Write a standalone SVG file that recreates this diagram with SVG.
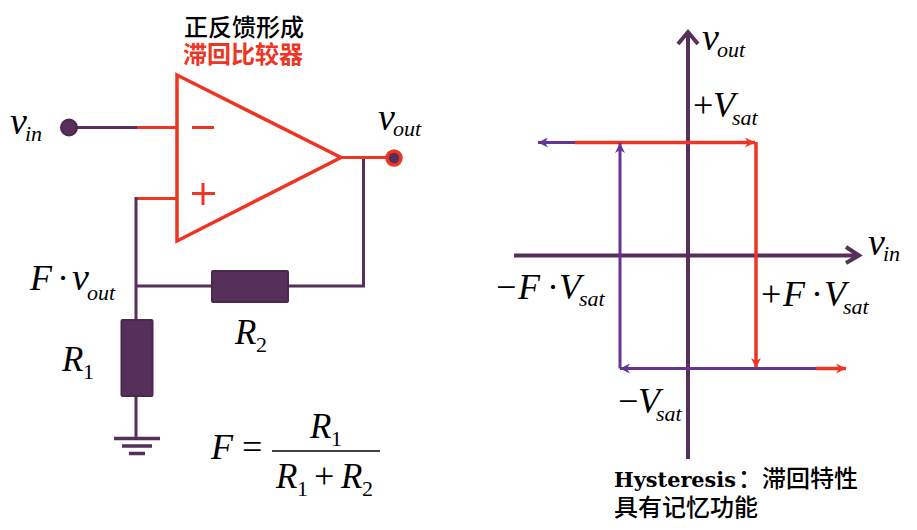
<svg xmlns="http://www.w3.org/2000/svg" width="917" height="530" viewBox="0 0 917 530">
<style>
.w{fill:none;stroke:#562f5b;stroke-width:3}
.r{fill:none;stroke:#ee3524;stroke-width:3}
.h{fill:none;stroke:#ee3524;stroke-width:3.500}
.ax{fill:none;stroke:#562f5b;stroke-width:4}
.p{fill:none;stroke:#643594;stroke-width:3}
.res{fill:#562f5b;stroke:#4a2850;stroke-width:2}
.m{font-family:"Liberation Serif",serif;font-style:italic;fill:#000}
.n{font-family:"Liberation Serif",serif;fill:#000}
.b{font-size:38px}.s{font-size:22px}.c{font-size:36px}.k{font-size:35px}
.cjk{font-family:"Noto Sans CJK SC",sans-serif;font-size:24px;font-weight:500}
</style>
<defs>
<marker id="ar" markerWidth="12" markerHeight="10" refX="10" refY="5" orient="auto" markerUnits="userSpaceOnUse"><path d="M0,0 L10,5 L0,10 L3,5Z" fill="#ee3524"/></marker>
<marker id="ap" markerWidth="12" markerHeight="10" refX="10" refY="5" orient="auto" markerUnits="userSpaceOnUse"><path d="M0,0 L10,5 L0,10 L3,5Z" fill="#643594"/></marker>
</defs>
<g id="title"><text class="cjk"><tspan x="184" y="36" fill="#000">正反馈形成</tspan><tspan x="183" y="63" fill="#ee3524" font-weight="700">滞回比较器</tspan></text></g>
<g id="connectors">
<path class="w" d="M69,127.500H137"/><path class="r" d="M137,127.500H177"/>
<path class="r" d="M136,198.500H177"/>
<path class="w" d="M136,197V438M136,286H363.500V158"/>
<path class="r" d="M341,157.500H394"/>
<path d="M114,438.500H160M122,446H152M129,453.500H145" fill="none" stroke="#562f5b" stroke-width="3.500"/>
</g>
<g id="opamp"><path d="M177,75V241L341,157.500Z" fill="none" stroke="#ee3524" stroke-width="3.500"/>
<path class="r" d="M192,127.500H214M192,193.500H215M203,183V205"/></g>
<g id="vin-node"><circle cx="69" cy="127.500" r="8" fill="#562f5b" stroke="#4a2850" stroke-width="2"/></g>
<g id="vout-node"><circle cx="394" cy="158" r="7" fill="#562f5b" stroke="#ee3524" stroke-width="3.500"/></g>
<g id="R2"><rect class="res" x="212" y="271" width="76" height="31" rx="1"/></g>
<g id="R1"><rect class="res" x="121.500" y="320" width="31" height="76" rx="1"/></g>
<g id="circuit-labels">
<text class="m b" x="10" y="134">v</text><text class="m s" x="25" y="141">in</text>
<text class="m b" x="378" y="130">v</text><text class="m s" x="393" y="136">out</text>
<text class="m c" x="30" y="290">F</text><text class="n c" x="57" y="290">·</text><text class="m b" x="72" y="290">v</text><text class="m s" x="87" y="300">out</text>
<text class="m k" x="235" y="344">R</text><text class="n s" x="256" y="352">2</text>
<text class="m k" x="62" y="371">R</text><text class="n s" x="83" y="379">1</text>
</g>
<g id="formula">
<text class="m c" x="211" y="459">F</text><text class="n c" x="242" y="459">=</text>
<text class="m k" x="310" y="438">R</text><text class="n s" x="331" y="446">1</text>
<path d="M272,451H380" stroke="#000" stroke-width="1.500" fill="none"/>
<text class="m k" x="276" y="488">R</text><text class="n s" x="297" y="496">1</text><text class="n c" x="314" y="488">+</text><text class="m k" x="341" y="488">R</text><text class="n s" x="362" y="496">2</text>
</g>
<g id="axes">
<path class="ax" d="M688,459V32M678,44L688,32L698,44"/>
<path class="ax" d="M514,255.500H858M846,247L859,255.500L846,263"/>
</g>
<g id="hysteresis">
<path class="p" d="M575,142.500H538" marker-end="url(#ap)"/>
<path class="h" d="M575,142.500H755" marker-end="url(#ar)"/>
<path class="h" d="M756,142V368" marker-end="url(#ar)"/>
<path class="p" d="M816,368.500H620" marker-end="url(#ap)"/>
<path class="h" d="M816,368.500H846" marker-end="url(#ar)"/>
<path class="p" d="M620,368.500V143" marker-end="url(#ap)"/>
</g>
<g id="graph-labels">
<text class="m b" x="702" y="50">v</text><text class="m s" x="717" y="57">out</text>
<text class="m b" x="868" y="255">v</text><text class="m s" x="883" y="261">in</text>
<text class="n c" x="693" y="117">+</text><text class="m c" x="713" y="117">V</text><text class="m s" x="732" y="125">sat</text>
<text class="n c" x="496" y="299">−</text><text class="m c" x="518" y="299">F</text><text class="n c" x="547" y="299">·</text><text class="m c" x="559" y="299">V</text><text class="m s" x="579" y="306">sat</text>
<text class="n c" x="761" y="306">+</text><text class="m c" x="783" y="306">F</text><text class="n c" x="811" y="306">·</text><text class="m c" x="824" y="306">V</text><text class="m s" x="843" y="314">sat</text>
<text class="n c" x="618" y="413">−</text><text class="m c" x="638" y="413">V</text><text class="m s" x="656" y="421">sat</text>
</g>
<g id="caption">
<text x="614" y="487" font-family="'DejaVu Serif',serif" font-weight="700" font-size="20" textLength="122" lengthAdjust="spacingAndGlyphs">Hysteresis</text>
<text class="cjk" x="738" y="487">：滞回特性</text>
<text class="cjk" x="614" y="516">具有记忆功能</text>
</g>
</svg>
